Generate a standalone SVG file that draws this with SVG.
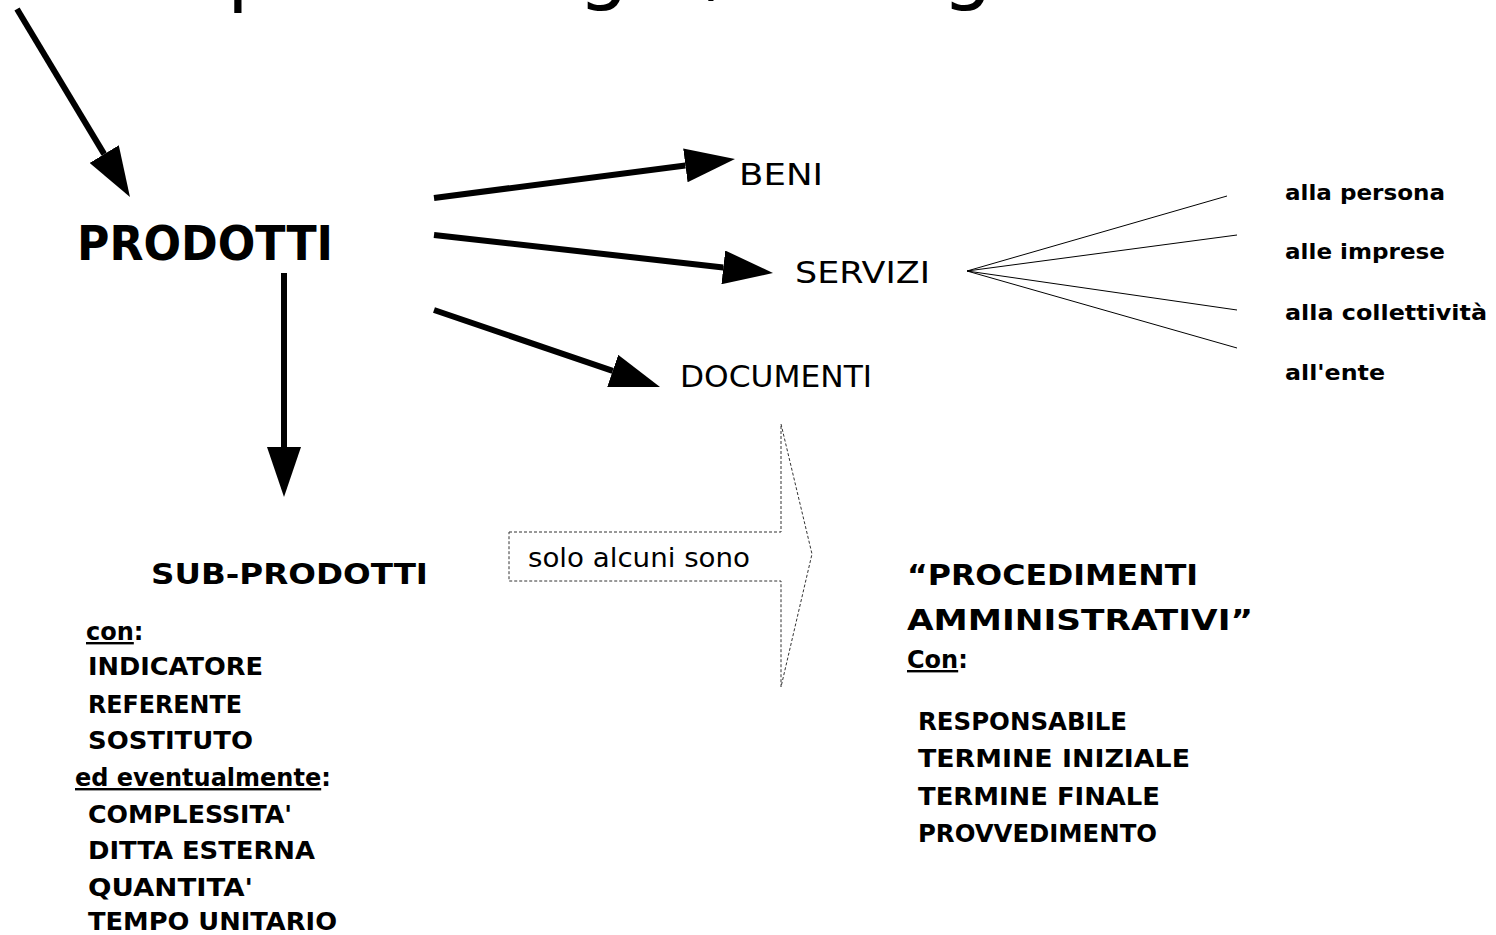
<svg xmlns="http://www.w3.org/2000/svg" width="1496" height="935" viewBox="0 0 1496 935">
  <style>
    text { font-family: "DejaVu Sans", "Liberation Sans", sans-serif; fill: #000; }
    .b { font-weight: bold; }
    .lbl { font-size: 30px; }
    .item { font-size: 24px; font-weight: bold; }
    .fan { font-size: 22px; font-weight: bold; }
    .frag { font-size: 80px; }
    .u { text-decoration: underline; }
    .thick { stroke: #000; stroke-width: 6; fill: none; marker-end: url(#ah); }
    .thin { stroke: #000; stroke-width: 1; fill: none; }
  </style>
  <defs>
    <marker id="ah" markerUnits="userSpaceOnUse" markerWidth="50" markerHeight="34" refX="0" refY="17" orient="auto" viewBox="0 0 50 34">
      <path d="M0,0 L50,17 L0,34 Z" fill="#000"/>
    </marker>
  </defs>

  <g id="title-fragment">
    <text class="frag" x="227" y="-4">p</text>
    <text class="frag" x="578" y="-6">g</text>
    <text class="frag" x="702" y="-8">,</text>
    <text class="frag" x="942" y="-6">g</text>
  </g>

  <g id="connectors">
    <path class="thick" d="M17,9 L104.2,154.1"/>
    <path class="thick" d="M284,273 L284,447"/>
    <path class="thick" d="M434,198 L685.4,165.4"/>
    <path class="thick" d="M434,235 L723.3,267.4"/>
    <path class="thick" d="M434,310 L612.7,370.9"/>
    <path class="thin" d="M967,271 L1227,196"/>
    <path class="thin" d="M967,271 L1237,235"/>
    <path class="thin" d="M967,271 L1237,310"/>
    <path class="thin" d="M967,271 L1237,348"/>
    <path id="dashed-arrow" d="M509,532 L781,532 L781,424 L812,554 L781,687 L781,581 L509,581 Z" fill="none" stroke="#333" stroke-width="1" stroke-dasharray="3,2"/>
  </g>

  <g id="prodotti">
    <text class="b" x="77" y="260" style="font-size:48px" textLength="256" lengthAdjust="spacingAndGlyphs">PRODOTTI</text>
  </g>
  <g id="beni">
    <text class="lbl" x="739" y="185" textLength="84" lengthAdjust="spacingAndGlyphs">BENI</text>
  </g>
  <g id="servizi">
    <text class="lbl" x="795" y="283" textLength="135" lengthAdjust="spacingAndGlyphs">SERVIZI</text>
  </g>
  <g id="documenti">
    <text class="lbl" x="680" y="387" textLength="192" lengthAdjust="spacingAndGlyphs">DOCUMENTI</text>
  </g>

  <g id="servizi-targets">
    <text class="fan" x="1285" y="200" textLength="160" lengthAdjust="spacingAndGlyphs">alla persona</text>
    <text class="fan" x="1285" y="259" textLength="160" lengthAdjust="spacingAndGlyphs">alle imprese</text>
    <text class="fan" x="1285" y="320" textLength="202" lengthAdjust="spacingAndGlyphs">alla collettività</text>
    <text class="fan" x="1285" y="380" textLength="100" lengthAdjust="spacingAndGlyphs">all'ente</text>
  </g>

  <g id="solo-alcuni">
    <text x="528" y="567" style="font-size:26px" textLength="222" lengthAdjust="spacingAndGlyphs">solo alcuni sono</text>
  </g>

  <g id="sub-prodotti">
    <text class="b" x="151" y="584" style="font-size:28px" textLength="277" lengthAdjust="spacingAndGlyphs">SUB-PRODOTTI</text>
    <text class="item" x="86" y="640"><tspan class="u">con</tspan>:</text>
    <text class="item" x="88" y="675" textLength="175" lengthAdjust="spacingAndGlyphs">INDICATORE</text>
    <text class="item" x="88" y="713" textLength="154" lengthAdjust="spacingAndGlyphs">REFERENTE</text>
    <text class="item" x="88" y="749" textLength="165" lengthAdjust="spacingAndGlyphs">SOSTITUTO</text>
    <text class="item" x="75" y="786"><tspan class="u">ed eventualmente</tspan>:</text>
    <text class="item" x="88" y="823" textLength="204" lengthAdjust="spacingAndGlyphs">COMPLESSITA'</text>
    <text class="item" x="88" y="859" textLength="227" lengthAdjust="spacingAndGlyphs">DITTA ESTERNA</text>
    <text class="item" x="88" y="896" textLength="165" lengthAdjust="spacingAndGlyphs">QUANTITA'</text>
    <text class="item" x="88" y="930" textLength="249" lengthAdjust="spacingAndGlyphs">TEMPO UNITARIO</text>
  </g>

  <g id="procedimenti">
    <text class="b" x="907" y="585" style="font-size:28px" textLength="291" lengthAdjust="spacingAndGlyphs">“PROCEDIMENTI</text>
    <text class="b" x="907" y="630" style="font-size:28px" textLength="346" lengthAdjust="spacingAndGlyphs">AMMINISTRATIVI”</text>
    <text class="item" x="907" y="668"><tspan class="u">Con</tspan>:</text>
    <text class="item" x="918" y="730" textLength="209" lengthAdjust="spacingAndGlyphs">RESPONSABILE</text>
    <text class="item" x="918" y="767" textLength="272" lengthAdjust="spacingAndGlyphs">TERMINE INIZIALE</text>
    <text class="item" x="918" y="805" textLength="242" lengthAdjust="spacingAndGlyphs">TERMINE FINALE</text>
    <text class="item" x="918" y="842" textLength="239" lengthAdjust="spacingAndGlyphs">PROVVEDIMENTO</text>
  </g>
</svg>
